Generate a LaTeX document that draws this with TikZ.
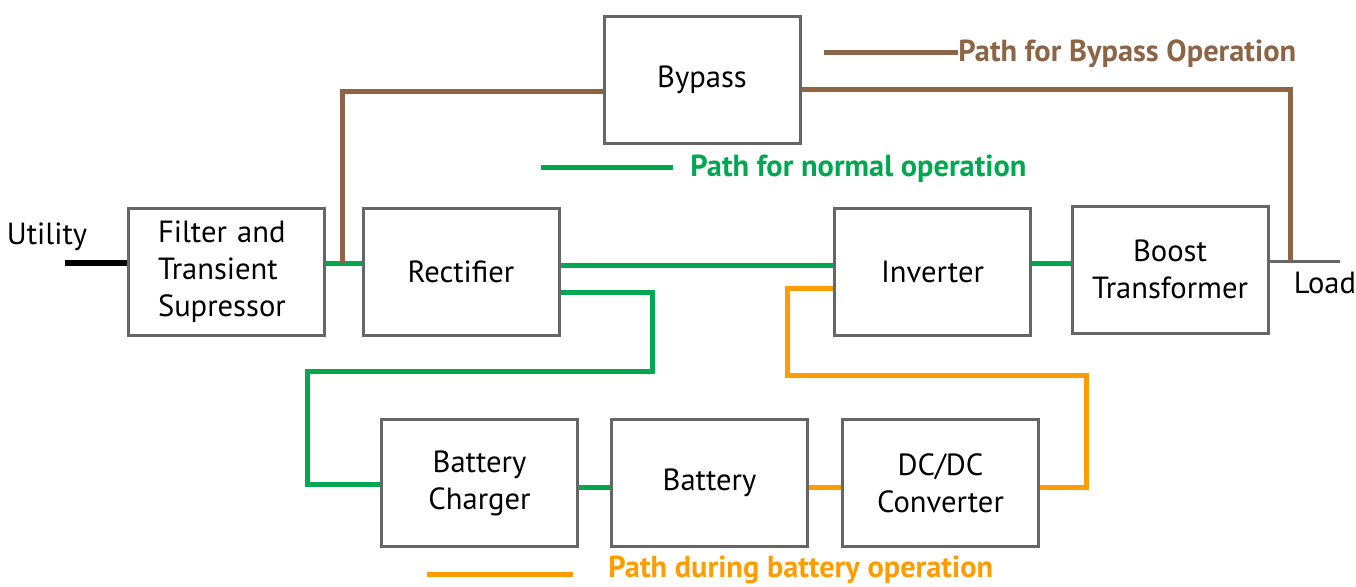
\documentclass[tikz,border=0pt]{standalone}
\usepackage{fontspec}
\setmainfont{PT Sans}
\usetikzlibrary{positioning}
\definecolor{normalgreen}{HTML}{00A651}
\definecolor{bypassbrown}{HTML}{8C6446}
\definecolor{battorange}{HTML}{FF9C00}
\definecolor{boxgray}{HTML}{666666}

\begin{document}
\begin{tikzpicture}
		[x=0.5pt, y=-0.5pt,
		 block/.style={draw=boxgray, line width=1.5pt, minimum width=98pt, minimum height=63.5pt,
			align=center, font=\fontsize{15.3}{18.5}\selectfont, inner sep=0pt},
		 normal/.style={normalgreen, line width=2.5pt},
		 bypassline/.style={bypassbrown, line width=2.5pt},
		 battline/.style={battorange, line width=2.5pt},
		 legend/.style={anchor=west, inner sep=0pt, font=\fontsize{15.2}{17}\bfseries}]
		\useasboundingbox (0,0) rectangle (1356,586);
		\node[block] (bypass) at (702,80) {Bypass};
		\node[block, align=left, text width=68pt] (filter) at (226,271.5) {Filter and\\Transient\\Supressor};
		\node[block] (rect) at (461,271.5) {Rectifier};
		\node[block] (inv) at (932.5,271.5) {Inverter};
		\node[block] (boost) at (1170,269.5) {Boost\\Transformer};
		\node[block] (charger) at (479.5,483) {Battery\\Charger};
		\node[block] (battery) at (709.5,483) {Battery};
		\node[block] (dcdc) at (940.5,483) {DC/DC\\Converter};

		\coordinate (utility) at (65,263);
		\coordinate (tap) at (342,263);
		\coordinate (loadtap) at (1290,261);
		\coordinate (load) at (1340,261);
		\node[font=\fontsize{15.3}{17}\selectfont] (utilitytext) at (47,237) {Utility};
		\node[font=\fontsize{15.3}{17}\selectfont] (loadtext) at (1325,283) {Load};

		\draw[line width=3pt] (utility) -- (filter.west |- utility);
		\draw[boxgray, line width=1.5pt] (boost.east |- load) -- (load);
		\draw[normal] (filter.east |- tap) -- (rect.west |- tap);
		\draw[bypassline] (tap) |- (bypass.west |- 0,91);
		\draw[bypassline] (bypass.east |- 0,89) -| (loadtap);
		\draw[normal] (rect.east |- 0,265) -- (inv.west |- 0,265);
		\draw[normal] (rect.east |- 0,292) -| (652,371) -| (307,484) -- (charger.west |- 0,484);
		\draw[normal] (charger.east |- 0,487) -- (battery.west |- 0,487);
		\draw[battline] (battery.east |- 0,487) -- (dcdc.west |- 0,487);
		\draw[battline] (dcdc.east |- 0,487) -| (1086,375) -| (787,288) -- (inv.west |- 0,288);
		\draw[normal] (inv.east |- 0,263) -- (boost.west |- 0,263);

		\coordinate (bypasskey) at (824,52);
		\node[legend, bypassbrown] (bypasslabel) at (958,54) {Path for Bypass Operation};
		\draw[bypassline] (bypasskey) -- (bypasslabel.west |- bypasskey);
		\coordinate (normalkey) at (541,167);
		\node[legend, normalgreen] (normallabel) at (690,169) {Path for normal operation};
		\draw[normal] (normalkey) -- (673,167);
		\coordinate (battkey) at (427,574);
		\node[legend, battorange] (battlabel) at (608,570) {Path during battery operation};
		\draw[battline] (battkey) -- (573,574);
\end{tikzpicture}
\end{document}
